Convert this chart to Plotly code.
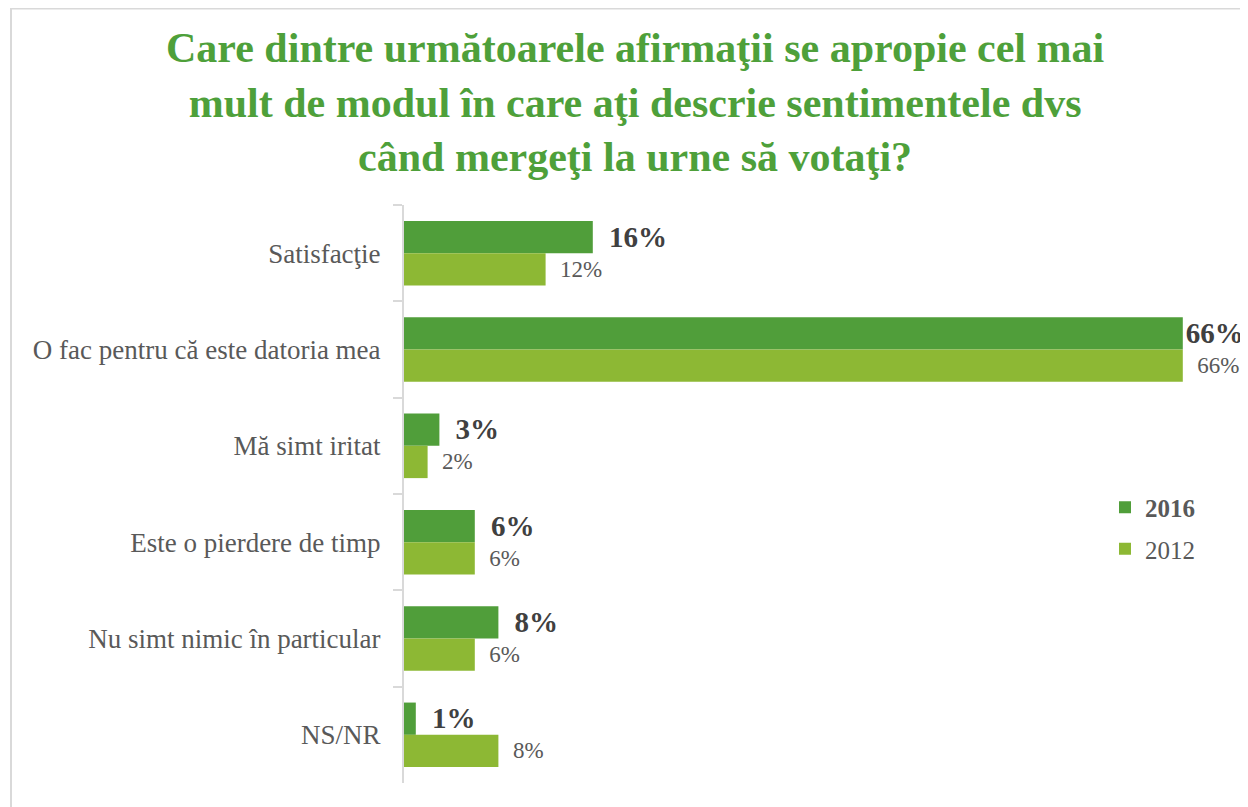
import plotly.graph_objects as go

categories = ["Satisfacţie", "O fac pentru că este datoria mea", "Mă simt iritat",
              "Este o pierdere de timp", "Nu simt nimic în particular", "NS/NR"]
values_2016 = [16, 66, 3, 6, 8, 1]
values_2012 = [12, 66, 2, 6, 6, 8]

FONT = "Liberation Serif"
# the page body has an 8px margin, so the figure is offset by 8px
W, H = 1240, 799
L, T = 396, 197
R = W - 1182
B = H - 775
pw = W - L - R
ph = H - T - B

fig = go.Figure()
fig.add_trace(go.Bar(
    y=categories, x=values_2016, orientation="h", name="<b>2016</b>",
    legendgroup="a",
    marker=dict(color="#509E3A", line=dict(width=0)),
    text=[f" \u2009{v}%" if v != 66 else f"{v}%" for v in values_2016],
    textposition="outside", cliponaxis=False,
    textfont=dict(family=FONT, size=36, color="#404040", weight="bold"),
))
fig.add_trace(go.Bar(
    y=categories, x=values_2012, orientation="h", name="2012",
    legendgroup="b",
    marker=dict(color="#8DB834", line=dict(width=0)),
    text=[f"  {v}%" for v in values_2012],
    textposition="outside", cliponaxis=False,
    textfont=dict(family=FONT, size=23, color="#595959"),
))

fig.add_annotation(
    text="Care dintre următoarele afirmaţii se apropie cel mai<br>mult de modul în care aţi descrie sentimentele dvs<br>când mergeţi la urne să votaţi?",
    xref="paper", yref="paper",
    x=(627 - L) / pw, y=(H - B - 94) / ph, xanchor="center", yanchor="middle",
    showarrow=False, align="center",
    font=dict(family=FONT, size=42, color="#4EA03A", weight="bold"),
)

fig.update_layout(
    width=W, height=H,
    margin=dict(l=L, r=R, t=T, b=B, autoexpand=False),
    paper_bgcolor="white", plot_bgcolor="white",
    barmode="group", bargap=0.33, bargroupgap=0,
    xaxis=dict(range=[0, pw / 11.8], visible=False, fixedrange=True),
    yaxis=dict(
        autorange="reversed", showline=True, linecolor="#D9D9D9", linewidth=2,
        ticks="outside", tickson="boundaries", ticklen=9, tickcolor="#D9D9D9", tickwidth=2,
        tickfont=dict(family=FONT, size=27, color="#595959"),
        ticklabelstandoff=16, showgrid=False, automargin=False,
    ),
    legend=dict(
        x=(1097 - L) / pw, y=(H - B - 520) / ph, xanchor="left", yanchor="middle",
        font=dict(family=FONT, size=25, color="#595959"),
        itemwidth=30, tracegroupgap=6, bgcolor="rgba(0,0,0,0)",
    ),
    showlegend=True,
    shapes=[dict(
        type="rect", xref="paper", yref="paper",
        x0=(3 - L) / pw, x1=(W + 20 - L) / pw,
        y0=-(B + 20) / ph, y1=(H - B - 0.5) / ph,
        line=dict(color="#D9D9D9", width=2), fillcolor="rgba(0,0,0,0)", layer="below",
    )],
)

fig.write_html("out.html")
